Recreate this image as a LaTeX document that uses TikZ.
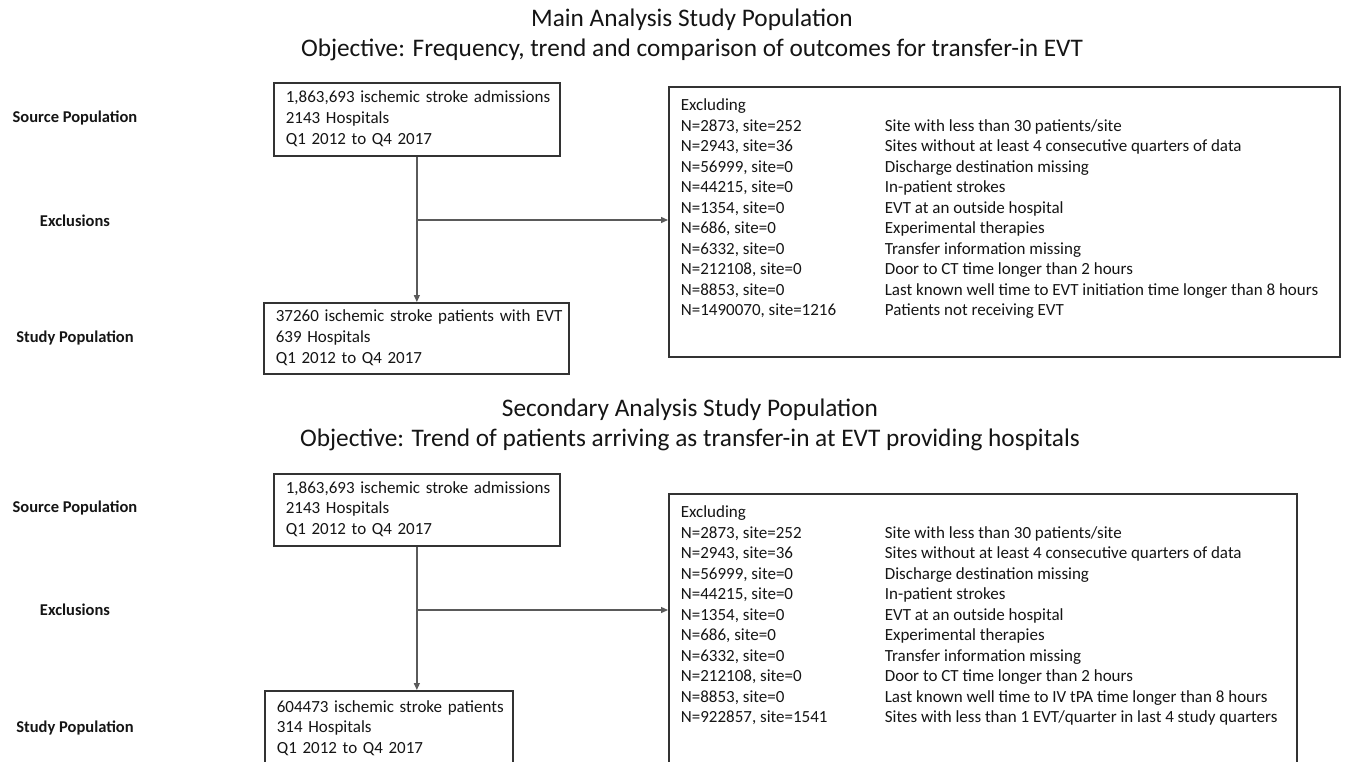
\documentclass[tikz,border=0pt]{standalone}
\usepackage{fontspec}
\setmainfont{Carlito}
\usetikzlibrary{arrows.meta}
\definecolor{boxgray}{HTML}{333333}
\definecolor{linegray}{HTML}{5A5A5A}
\definecolor{txt}{HTML}{151515}
\tikzset{
  box/.style={draw=boxgray, line width=1.7pt, anchor=north west, text=txt,
    font=\fontsize{17}{20.6}\selectfont, align=left, inner ysep=0pt, inner xsep=12pt},
  exbox/.style={draw=boxgray, line width=1.7pt, anchor=north west, text=txt,
    font=\fontsize{17}{20.5}\selectfont, inner sep=0pt},
  lbl/.style={font=\bfseries\fontsize{16.5}{19}\selectfont, text=txt},
  ttl/.style={font=\fontsize{25.3}{30}\selectfont, text=txt, align=center},
  conn/.style={draw=linegray, line width=1.3pt},
  arr/.style={conn, -{Triangle[length=7pt,width=6pt]}},
}
\newcommand{\lines}[1]{\begin{tabular}{@{}l@{}}#1\end{tabular}}
\newcommand{\exlist}[4]{%
  \begin{minipage}[t][#1][t]{#2}
  \vspace{9.5pt}%
  \hspace*{12pt}\begin{tabular}[t]{@{}p{204pt}@{}l@{}}
  Excluding & \\
  N=2873, site=252 & Site with less than 30 patients/site\\
  N=2943, site=36 & Sites without at least 4 consecutive quarters of data\\
  N=56999, site=0 & Discharge destination missing\\
  N=44215, site=0 & In-patient strokes\\
  N=1354, site=0 & EVT at an outside hospital\\
  N=686, site=0 & Experimental therapies\\
  N=6332, site=0 & Transfer information missing\\
  N=212108, site=0 & Door to CT time longer than 2 hours\\
  #3\\
  #4
  \end{tabular}
  \end{minipage}}
\begin{document}
\begin{tikzpicture}[x=1pt, y=-1pt]
\useasboundingbox (0,0) rectangle (1346,762);
\clip (0,0) rectangle (1346,762);
\fill[white] (0,0) rectangle (1346,762);

% ---------- Main analysis ----------
\node[ttl] (t1) at (692,35) {Main Analysis Study Population\\Objective: Frequency, trend and comparison of outcomes for transfer-in EVT};

\node[lbl] (l1) at (75,118) {Source Population};
\node[lbl] (l2) at (75,221) {Exclusions};
\node[lbl] (l3) at (75,337.5) {Study Population};

\node[box, text width=262pt, minimum height=73pt] (a1) at (273,82)
  {\lines{1,863,693 ischemic stroke admissions\\2143 Hospitals\\Q1 2012 to Q4 2017}};
\node[box, text width=281pt, minimum height=71pt] (a3) at (263,302)
  {\lines{37260 ischemic stroke patients with EVT\\639 Hospitals\\Q1 2012 to Q4 2017}};
\node[exbox] (a2) at (668,86)
  {\exlist{270pt}{671pt}{N=8853, site=0 & Last known well time to EVT initiation time longer than 8 hours}{N=1490070, site=1216 & Patients not receiving EVT}};

\draw[arr] (a1.south) -- (a1.south |- a3.north);
\coordinate (ja) at (a1.south |- 0,220);
\draw[arr] (ja) -- (ja -| a2.west);

% ---------- Secondary analysis ----------
\node[ttl] (t2) at (690,425) {Secondary Analysis Study Population\\Objective: Trend of patients arriving as transfer-in at EVT providing hospitals};

\node[lbl] (m1) at (75,508) {Source Population};
\node[lbl] (m2) at (75,610) {Exclusions};
\node[lbl] (m3) at (75,728) {Study Population};

\node[box, text width=262pt, minimum height=72pt] (b1) at (273,473)
  {\lines{1,863,693 ischemic stroke admissions\\2143 Hospitals\\Q1 2012 to Q4 2017}};
\node[box, text width=224pt, minimum height=76pt] (b3) at (264,690)
  {\lines{604473 ischemic stroke patients\\314 Hospitals\\Q1 2012 to Q4 2017}};
\node[exbox] (b2) at (668,493)
  {\exlist{280pt}{628pt}{N=8853, site=0 & Last known well time to IV tPA time longer than 8 hours}{N=922857, site=1541 & Sites with less than 1 EVT/quarter in last 4 study quarters}};

\draw[arr] (b1.south) -- (b1.south |- b3.north);
\coordinate (jb) at (b1.south |- 0,610);
\draw[arr] (jb) -- (jb -| b2.west);
\end{tikzpicture}
\end{document}
